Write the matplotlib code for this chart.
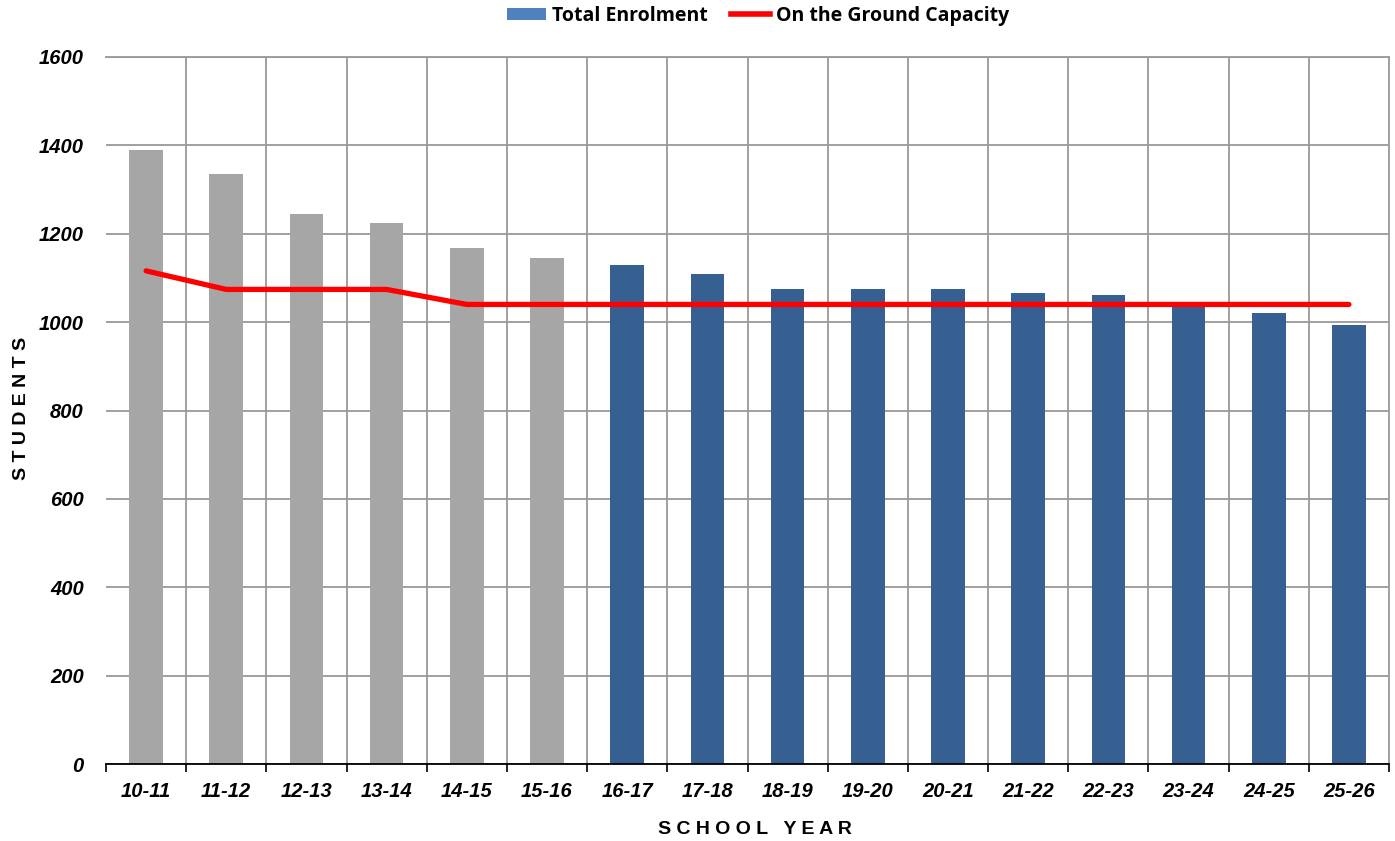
import matplotlib
matplotlib.use("Agg")
import matplotlib.pyplot as plt
from matplotlib.patches import Patch
from matplotlib.lines import Line2D
import numpy as np

years = ["10-11", "11-12", "12-13", "13-14", "14-15", "15-16", "16-17", "17-18",
         "18-19", "19-20", "20-21", "21-22", "22-23", "23-24", "24-25", "25-26"]
enrolment = [1390, 1335, 1245, 1225, 1168, 1145, 1130, 1108,
             1075, 1075, 1075, 1067, 1062, 1042, 1020, 993]
capacity = [1116, 1074, 1074, 1074, 1040, 1040, 1040, 1040,
            1040, 1040, 1040, 1040, 1040, 1040, 1040, 1040]
n_actual = 6
yticks = [0, 200, 400, 600, 800, 1000, 1200, 1400, 1600]

gray = "#A6A6A6"
blue = "#366092"
legend_blue = "#4F81BD"
grid_c = "#999999"

fig = plt.figure(figsize=(13.95, 8.41), dpi=100)
ax = fig.add_axes([106/1395, 1-764/841, (1389-106)/1395, (764-57)/841])

x = np.arange(len(years))
colors = [gray if i < n_actual else blue for i in range(len(years))]
ax.bar(x, enrolment, width=0.42, color=colors, zorder=2)
ax.plot(x, capacity, color="#FF0000", lw=3.8, solid_capstyle="round", zorder=3)

ax.set_xlim(-0.5, len(years) - 0.5)
ax.set_ylim(0, 1600)
ax.set_yticks(yticks)
ax.set_yticklabels([str(v) for v in yticks], fontsize=14.5, fontweight="bold",
                   fontstyle="italic", family="Liberation Sans")
ax.set_xticks(x)
ax.set_xticklabels(years, fontsize=14.5, fontweight="bold", fontstyle="italic",
                   family="Liberation Sans")
ax.set_xticks(np.arange(-0.5, len(years), 1.0), minor=True)

ax.tick_params(axis="y", length=0, pad=16)
ax.tick_params(axis="x", which="major", length=0, pad=13)
ax.tick_params(axis="x", which="minor", length=6, width=1.2, color="black", direction="out")

ax.grid(True, axis="y", which="major", color=grid_c, lw=1.3, zorder=0)
ax.grid(False, axis="x", which="both")
for b in np.arange(0.5, len(years) - 1, 1.0):
    ax.axvline(b, color=grid_c, lw=1.3, zorder=0)
ax.set_axisbelow(True)

ax.spines["left"].set_visible(False)
ax.spines["bottom"].set_color("black")
ax.spines["bottom"].set_linewidth(1.3)
for s in ("top", "right"):
    ax.spines[s].set_color(grid_c)
    ax.spines[s].set_linewidth(1.3)

fig.text(22/1395, 1-408/841, "S T U D E N T S", rotation=90, ha="center", va="center",
         fontsize=14, fontweight="bold", family="Liberation Sans")
fig.text(755/1395, 1-829/841, "S C H O O L   Y E A R", ha="center", va="center",
         fontsize=14, fontweight="bold", family="Liberation Sans")

handles = [Patch(facecolor=legend_blue, edgecolor="none"),
           Line2D([0], [0], color="#FF0000", lw=4)]
leg = fig.legend(handles, ["Total Enrolment", "On the Ground Capacity"],
                 loc="center", bbox_to_anchor=(758/1395, 1-16/841), ncol=2,
                 frameon=False, prop={"family": "Open Sans", "weight": "bold", "size": 14},
                 handlelength=2.0, handleheight=0.6, handletextpad=0.3, columnspacing=1.2)

fig.savefig("out.png", dpi=100)
